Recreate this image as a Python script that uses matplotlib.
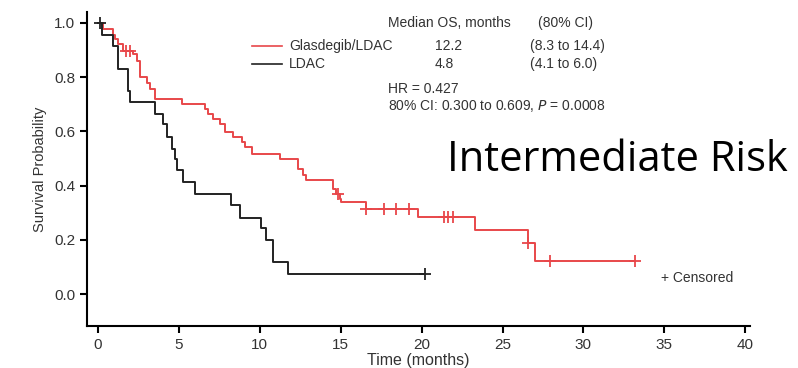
import matplotlib
matplotlib.use('Agg')
from matplotlib import pyplot as plt

# Kaplan-Meier steps: (time of drop, level after drop)
glas_t = [0, 0.33, 0.94, 1.05, 1.25, 1.56, 2.18, 2.39, 2.59, 3.0, 3.21, 3.52,
          5.17, 6.6, 6.81, 7.12, 7.53, 7.84, 8.35, 8.87, 9.07, 9.49, 11.23,
          12.36, 12.67, 12.88, 14.52, 14.73, 14.94, 15.04, 16.59, 19.77,
          23.27, 26.56, 26.98, 33.2]
glas_s = [1.0, 0.977, 0.956, 0.94, 0.922, 0.896, 0.885, 0.86, 0.799, 0.78,
          0.756, 0.72, 0.70, 0.683, 0.664, 0.646, 0.628, 0.597, 0.578, 0.56,
          0.542, 0.517, 0.499, 0.462, 0.4375, 0.419, 0.389, 0.37, 0.352,
          0.339, 0.315, 0.286, 0.235, 0.19, 0.122, 0.122]
glas_cens_t = [1.75, 1.98, 14.83, 16.59, 17.7, 18.4, 19.2, 21.38, 21.64,
               21.93, 26.6, 27.94, 33.19]

ldac_t = [0, 0.23, 0.93, 1.25, 1.85, 1.98, 3.52, 4.03, 4.24, 4.55, 4.75,
          4.86, 5.27, 5.99, 8.25, 8.77, 10.1, 10.4, 10.8, 11.75, 20.2]
ldac_s = [1.0, 0.956, 0.915, 0.83, 0.75, 0.71, 0.664, 0.628, 0.578, 0.536,
          0.499, 0.456, 0.413, 0.37, 0.327, 0.282, 0.244, 0.199, 0.119,
          0.074, 0.074]
ldac_cens_t = [0.1, 20.2]

x_ticks = [0, 5, 10, 15, 20, 25, 30, 35, 40]
y_ticks = [0.0, 0.2, 0.4, 0.6, 0.8, 1.0]

red = '#e8474a'
black = '#222222'
grey = '#333333'


def level_at(times, surv, t):
    # survival level of a step curve at time t
    val = surv[0]
    for ti, si in zip(times, surv):
        if ti <= t:
            val = si
    return val


plt.rcParams['font.family'] = ['Liberation Sans', 'DejaVu Sans']

fig = plt.figure(figsize=(7.98, 3.68), dpi=100)
ax = fig.add_axes([0.109, 0.114, 0.831, 0.853])

ax.step(glas_t, glas_s, where='post', color=red, linewidth=1.4)
ax.step(ldac_t, ldac_s, where='post', color=black, linewidth=1.4)

ax.plot(glas_cens_t, [level_at(glas_t, glas_s, t) for t in glas_cens_t],
        '+', color=red, markersize=8, markeredgewidth=1.3)
ax.plot(ldac_cens_t, [level_at(ldac_t, ldac_s, t) for t in ldac_cens_t],
        '+', color=black, markersize=8, markeredgewidth=1.3)

ax.set_xlim(-0.68, 40.3)
ax.set_ylim(-0.118, 1.04)
ax.set_xticks(x_ticks)
ax.set_yticks(y_ticks)
ax.set_yticklabels(['%.1f' % v for v in y_ticks])
for side in ['top', 'right']:
    ax.spines[side].set_visible(False)
for side in ['left', 'bottom']:
    ax.spines[side].set_linewidth(1.5)
ax.tick_params(direction='out', length=5, width=1.5, labelsize=11,
               labelcolor=grey)
ax.set_xlabel('Time (months)', fontsize=11.5, color=grey, labelpad=1)
ax.set_ylabel('Survival Probability', fontsize=10.5, color=grey, labelpad=5)

# legend / summary table
fs = 10
ax.text(17.9, 1.0, 'Median OS, months', fontsize=fs, color=grey, va='center')
ax.text(27.2, 1.0, '(80% CI)', fontsize=fs, color=grey, va='center')
ax.plot([9.5, 11.4], [0.915, 0.915], color=red, linewidth=1.2)
ax.plot([9.5, 11.4], [0.85, 0.85], color=black, linewidth=1.2)
ax.text(11.8, 0.915, 'Glasdegib/LDAC', fontsize=fs, color=grey, va='center')
ax.text(11.8, 0.85, 'LDAC', fontsize=fs, color=grey, va='center')
ax.text(20.8, 0.915, '12.2', fontsize=fs, color=grey, va='center')
ax.text(20.8, 0.85, '4.8', fontsize=fs, color=grey, va='center')
ax.text(26.7, 0.915, '(8.3 to 14.4)', fontsize=fs, color=grey, va='center')
ax.text(26.7, 0.85, '(4.1 to 6.0)', fontsize=fs, color=grey, va='center')
ax.text(17.9, 0.755, 'HR = 0.427', fontsize=fs, color=grey, va='center')
ax.text(17.9, 0.693, '80% CI: 0.300 to 0.609, $\\it{P}$ = 0.0008',
        fontsize=fs, color=grey, va='center')

ax.text(34.8, 0.06, '+ Censored', fontsize=fs, color=grey, va='center')

fig.text(0.56, 0.565, 'Intermediate Risk', fontsize=30, color='black',
         family=['Open Sans', 'DejaVu Sans'], va='center')

fig.savefig('out.png', dpi=100)
